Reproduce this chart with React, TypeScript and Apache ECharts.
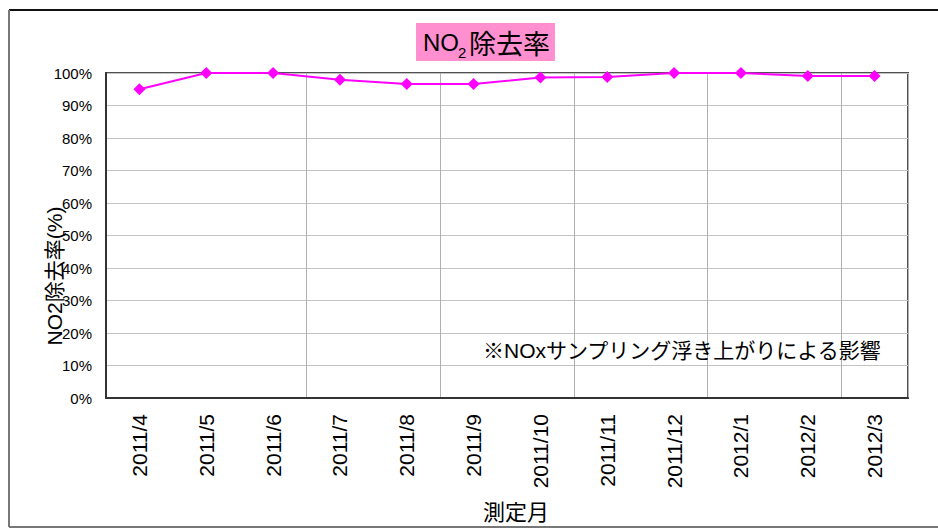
import React, { useEffect, useRef } from "react";
import * as echarts from "echarts";

const categories = [
  "2011/4", "2011/5", "2011/6", "2011/7", "2011/8", "2011/9",
  "2011/10", "2011/11", "2011/12", "2012/1", "2012/2", "2012/3",
];
const removalRate = [95.0, 100, 100, 97.9, 96.6, 96.6, 98.6, 98.8, 100, 100, 99.1, 99.1];
const yTicks = [0, 10, 20, 30, 40, 50, 60, 70, 80, 90, 100];
const titleMain = "NO";
const titleSub = "2";
const titleRest = "除去率";
const yAxisTitle = "NO2除去率(%)";
const xAxisTitle = "測定月";
const noteText = "※NOxサンプリング浮き上がりによる影響";

const JP = "'Liberation Sans', Arial, 'Noto Sans CJK JP', sans-serif";
const CJK = "'Noto Sans CJK JP', sans-serif";
const NARROW = "'Liberation Sans Narrow', 'Liberation Sans', Arial, sans-serif";

export default function App() {
  const ref = useRef<HTMLDivElement>(null);
  useEffect(() => {
    if (!ref.current) return;
    const chart = echarts.init(ref.current, null, { renderer: "svg" });
    chart.setOption({
      animation: false,
      backgroundColor: "#ffffff",
      grid: {
        left: 106,
        right: 30,
        top: 73,
        bottom: 132,
        show: true,
        borderColor: "#505050",
        borderWidth: 2,
        backgroundColor: "transparent",
      },
      xAxis: {
        type: "category",
        data: categories,
        boundaryGap: true,
        axisLine: { show: true, lineStyle: { color: "#333", width: 2 } },
        axisTick: { show: false },
        axisLabel: {
          rotate: 90,
          margin: 16,
          fontSize: 21,
          fontFamily: "'Liberation Sans', Arial, sans-serif",
          color: "#000",
          interval: 0,
        },
        splitLine: {
          show: true,
          interval: (i: number) => i >= 3 && i % 2 === 1,
          lineStyle: { color: "#b0b0b0", width: 1 },
        },
      },
      yAxis: {
        type: "value",
        min: yTicks[0],
        max: yTicks[yTicks.length - 1],
        interval: 10,
        axisLine: { show: true, lineStyle: { color: "#333", width: 2 } },
        axisTick: { show: false },
        axisLabel: {
          formatter: "{value}%",
          margin: 14,
          fontSize: 15,
          fontFamily: NARROW,
          color: "#000",
        },
        splitLine: { show: true, lineStyle: { color: "#c4c4c4", width: 1 } },
      },
      series: [
        {
          type: "line",
          data: removalRate,
          symbol: "diamond",
          symbolSize: 12,
          lineStyle: { color: "#ff00ff", width: 2 },
          itemStyle: { color: "#ff00ff" },
          z: 5,
        },
      ],
      graphic: [
        { type: "line", shape: { x1: 9, y1: 10, x2: 938, y2: 10 }, style: { stroke: "#111", lineWidth: 2 } },
        { type: "line", shape: { x1: 9, y1: 10, x2: 9, y2: 527 }, style: { stroke: "#777", lineWidth: 2 } },
        { type: "line", shape: { x1: 9, y1: 527, x2: 938, y2: 527 }, style: { stroke: "#777", lineWidth: 2 } },
        {
          type: "group",
          children: [
            { type: "rect", shape: { x: 416, y: 23, width: 139, height: 38 }, style: { fill: "#ff8fce" } },
            {
              type: "text", x: 423, y: 42,
              style: { text: titleMain, fontSize: 24, fontFamily: JP, fill: "#000", align: "left", verticalAlign: "middle" },
            },
            {
              type: "text", x: 458, y: 52,
              style: { text: titleSub, fontSize: 15, fontFamily: JP, fill: "#000", align: "left", verticalAlign: "middle" },
            },
            {
              type: "text", x: 469, y: 42,
              style: { text: titleRest, fontSize: 27, fontFamily: CJK, fill: "#000", align: "left", verticalAlign: "middle" },
            },
          ],
        },
        {
          type: "text",
          x: 54,
          y: 276,
          rotation: Math.PI / 2,
          style: {
            text: yAxisTitle,
            fontSize: 21,
            fontFamily: JP,
            fill: "#000",
            align: "center",
            verticalAlign: "middle",
          },
        },
        {
          type: "text",
          x: 516,
          y: 510,
          style: {
            text: xAxisTitle,
            fontSize: 22,
            fontFamily: CJK,
            fill: "#000",
            align: "center",
            verticalAlign: "middle",
          },
        },
        {
          type: "text",
          x: 483,
          y: 350,
          z: 10,
          style: {
            text: noteText,
            fontSize: 21,
            fontFamily: JP,
            fill: "#000",
            align: "left",
            verticalAlign: "middle",
          },
        },
      ],
    });
    return () => chart.dispose();
  }, []);
  return (
    <div
      ref={ref}
      style={{ position: "absolute", left: 0, top: 0, width: 938, height: 530 }}
    />
  );
}
